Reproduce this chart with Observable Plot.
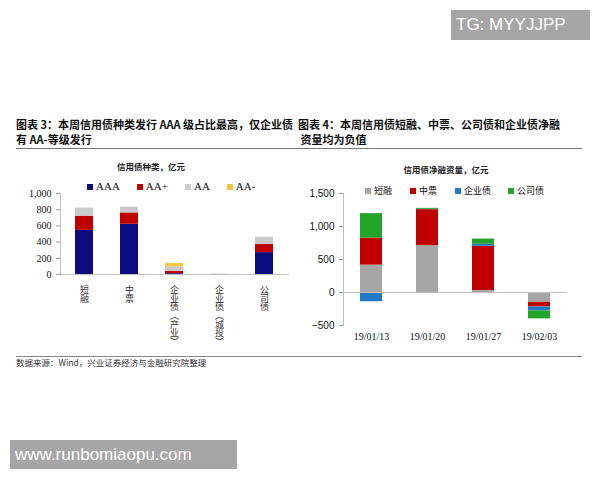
<!DOCTYPE html>
<html><head><meta charset="utf-8">
<script src="https://cdn.jsdelivr.net/npm/d3@7"></script>
<script src="https://cdn.jsdelivr.net/npm/@observablehq/plot@0.6"></script>
<style>
body{margin:0;width:600px;height:480px;position:relative;background:#fff;overflow:hidden;font-family:"Noto Sans CJK SC",sans-serif;}
.abs{position:absolute;}
.ftitle{font-size:11px;font-weight:700;line-height:15px;color:#111;white-space:nowrap;}
.ctitle{font-size:8.5px;font-weight:700;color:#222;white-space:nowrap;}
.leg{display:flex;align-items:center;white-space:nowrap;color:#111;}
.sw{display:inline-block;width:6px;height:6px;margin-right:3px;}
.wm{background:#a6a6a6;color:#fff;font-family:"Liberation Sans",Arial,sans-serif;font-size:17px;line-height:30px;padding-left:5px;}
.vlab text{writing-mode:vertical-rl;text-orientation:upright;letter-spacing:-0.4px;}
</style></head>
<body>
<script>
// Left chart: issuance by bond type and rating (亿元)
const leftCats = ["短融","中票","企业债（产业）","企业债（城投）","公司债"];
const ratings = ["AAA","AA+","AA","AA-"];
const aaa     = [545, 620, 10, 0, 270];
const aaPlus  = [175, 140, 30, 0, 100];
const aa      = [100,  70, 55, 5,  90];
const aaMinus = [  0,   0, 40, 0,   0];
const leftTicks = [0, 200, 400, 600, 800, 1000];

// Right chart: net financing (亿元)
const dates = ["19/01/13","19/01/20","19/01/27","19/02/03"];
const types = ["短融","中票","企业债","公司债"];
const dr  = [415, 710,  30, -150];
const zp  = [410, 545, 670,  -70];
const qyz = [-140,  5,  30,  -60];
const gsz = [370,  15,  80, -120];
const rightTicks = [-500, 0, 500, 1000, 1500];

const ratingColors = ["#0b0b7e","#c00000","#c9c9c9","#f2c53d"];
const typeColors = ["#a6a6a6","#c00000","#1f78c8","#22a32a"];

const leftSeries = [aaa, aaPlus, aa, aaMinus];
const leftData = [];
ratings.forEach((r, i) => leftCats.forEach((c, j) => leftData.push({cat: c, rating: r, value: leftSeries[i][j]})));
const rightSeries = [dr, zp, qyz, gsz];
const rightData = [];
types.forEach((t, i) => dates.forEach((d, j) => rightData.push({date: d, type: t, value: rightSeries[i][j]})));

function el(html, style, cls){const d=document.createElement("div");d.className="abs "+(cls||"");d.innerHTML=html;Object.assign(d.style,style);document.body.appendChild(d);return d;}

// watermarks
el("TG: MYYJJPP",{left:"451px",top:"10px",width:"134px",height:"30px"},"wm");
el("www.runbomiaopu.com",{left:"10px",top:"440px",width:"222px",height:"29px"},"wm");

// figure titles
el("图表 3：本周信用债种类发行 AAA 级占比最高，仅企业债<br>有 AA-等级发行",{left:"16px",top:"117px"},"ftitle");
el("图表 4：本周信用债短融、中票、公司债和企业债净融<br>&nbsp;资量均为负值",{left:"298px",top:"117px"},"ftitle");
el("",{left:"16px",top:"148px",width:"566px",height:"0",borderTop:"1.5px solid #777"});
el("",{left:"16px",top:"356px",width:"566px",height:"0",borderTop:"1px solid #888"});
el("数据来源：Wind，兴业证券经济与金融研究院整理",{left:"16px",top:"356px",fontSize:"8.5px",color:"#333",lineHeight:"12px"});

// chart titles
el("信用债种类，亿元",{left:"151px",top:"160px",transform:"translateX(-50%)"},"ctitle");
el("信用债净融资量，亿元",{left:"446px",top:"163px",transform:"translateX(-50%)"},"ctitle");

// legends
el(ratings.map((r,i)=>`<span style="display:inline-flex;align-items:center;margin-right:${[17,17,17,0][i]}px"><span class="sw" style="background:${ratingColors[i]}"></span>${r}</span>`).join(""),
  {left:"87px",top:"180px",fontFamily:"'Liberation Serif',serif",fontSize:"11px",lineHeight:"13px"},"leg");
el(types.map((t,i)=>`<span style="display:inline-flex;align-items:center;margin-right:${[18,18,17,0][i]}px"><span class="sw" style="background:${typeColors[i]}"></span>${t}</span>`).join(""),
  {left:"365px",top:"184px",fontSize:"9px",lineHeight:"13px"},"leg");

const left = Plot.plot({
  width: 300, height: 170,
  marginLeft: 60, marginRight: 11, marginTop: 13, marginBottom: 76,
  style: {background: "transparent", color: "#111"},
  x: {domain: leftCats, paddingInner: 0.6, paddingOuter: 0.3, label: null, axis: null},
  y: {domain: [0, 1000], label: null},
  marks: [
    Plot.barY(leftData, {x: "cat", y: "value", fill: d => ratingColors[ratings.indexOf(d.rating)], z: "rating", order: ratings, inset: 0}),
    Plot.ruleY([0], {stroke: "#bfbfbf"}),
    Plot.frame({anchor: "left", stroke: "#bfbfbf"}),
    Plot.axisY({ticks: leftTicks, tickFormat: d3.format(","), tickSize: 4, tickPadding: 5, stroke: "#999", fontSize: 10, fontFamily: "'Liberation Serif',serif", label: null}),
    Plot.text(leftCats, {x: d => d, text: d => d, frameAnchor: "bottom", textAnchor: "start", lineAnchor: "middle", dy: 8, fontSize: 9, fill: "#333", fontFamily: "'Noto Sans CJK SC',sans-serif", className: "vlab"})
  ]
});
Object.assign(left.style, {position: "absolute", left: "0px", top: "180px"});
document.body.appendChild(left);

const right = Plot.plot({
  width: 310, height: 170,
  marginLeft: 53, marginRight: 33, marginTop: 13, marginBottom: 25,
  style: {background: "transparent", color: "#111"},
  x: {domain: dates, paddingInner: 0.61, paddingOuter: 0.305, label: null},
  y: {domain: [-500, 1500], label: null},
  marks: [
    Plot.barY(rightData, {x: "date", y: "value", fill: d => typeColors[types.indexOf(d.type)], z: "type", order: types, inset: 0}),
    Plot.ruleY([0], {stroke: "#bfbfbf"}),
    Plot.frame({anchor: "left", stroke: "#bfbfbf"}),
    Plot.axisY({ticks: rightTicks, tickFormat: d3.format(","), tickSize: 4, tickPadding: 5, stroke: "#999", fontSize: 10, fontFamily: "'Liberation Sans',sans-serif", label: null}),
    Plot.axisX({tickSize: 0, tickPadding: 7, fontSize: 10, fontFamily: "'Liberation Serif',serif", label: null})
  ]
});
Object.assign(right.style, {position: "absolute", left: "290px", top: "180px"});
document.body.appendChild(right);
</script>
</body></html>
